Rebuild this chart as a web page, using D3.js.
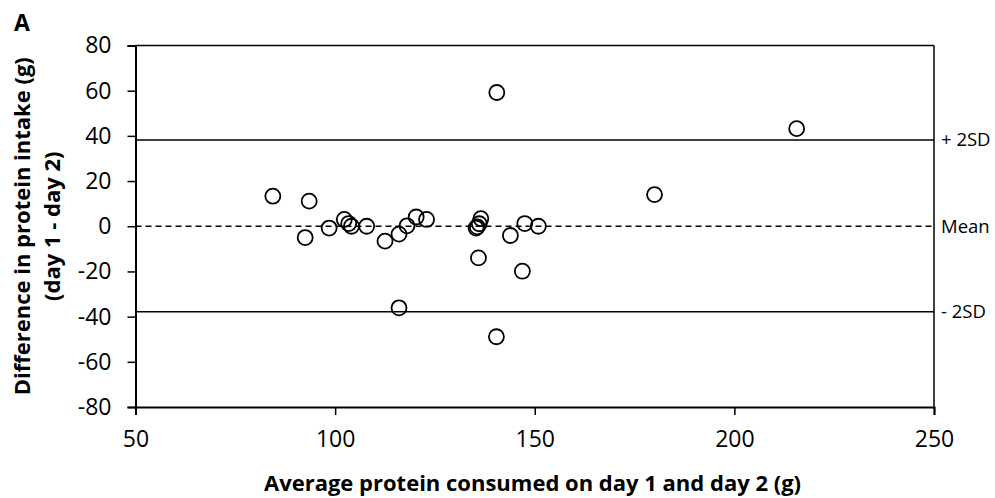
<!DOCTYPE html>
<html>
<head>
<meta charset="utf-8">
<script src="https://cdn.jsdelivr.net/npm/d3@7"></script>
<style>
  body { margin: 0; background: #fff; }
  text { font-family: "Open Sans", "Noto Sans", sans-serif; fill: #000; }
</style>
</head>
<body>
<div id="chart"></div>
<script>
// average of day 1 and day 2 (g)
const avgProtein = [84.4, 93.5, 92.5, 98.5, 102.3, 103.4, 104.1, 107.9, 112.5, 116.0,
    118.0, 120.3, 122.9, 116.0, 136.5, 136.1, 135.6, 135.3, 135.9, 140.5,
    140.4, 143.9, 147.5, 150.9, 146.9, 180.0, 215.6];
// difference day 1 - day 2 (g)
const diffProtein = [13.3, 11.1, -5.0, -0.8, 3.0, 1.2, 0, 0, -6.6, -3.5,
    0.2, 4.1, 3.0, -36.1, 3.4, 1.1, -0.3, -0.8, -14.0, 59.2,
    -48.9, -4.1, 1.2, 0, -19.9, 14.0, 43.2];
const refLines = [
    {value: 38.2, label: "+ 2SD", dashed: false},
    {value: 0, label: "Mean", dashed: true},
    {value: -37.8, label: "- 2SD", dashed: false}
];
const xTicks = [50, 100, 150, 200, 250];
const yTicks = [80, 60, 40, 20, 0, -20, -40, -60, -80];

const margin = {top: 45.5, right: 61, bottom: 91, left: 135.5};
const W = 995, H = 498;
const width = W - margin.left - margin.right;
const height = H - margin.top - margin.bottom;

const svg = d3.select("#chart").append("svg")
    .attr("width", W)
    .attr("height", H);

const g = svg.append("g")
    .attr("transform", `translate(${margin.left},${margin.top})`);

const x = d3.scaleLinear().domain([50, 250]).range([0, width]);
const y = d3.scaleLinear().domain([-80, 80]).range([height, 0]);

// box
g.append("line").attr("x1", 0).attr("x2", width).attr("y1", 0).attr("y2", 0)
    .attr("stroke", "#000").attr("stroke-width", 1.5);
g.append("line").attr("x1", width).attr("x2", width).attr("y1", 0).attr("y2", height)
    .attr("stroke", "#000").attr("stroke-width", 1.5);

// reference lines
g.selectAll(".ref")
    .data(refLines)
    .enter()
    .append("line")
    .attr("class", "ref")
    .attr("x1", 0)
    .attr("x2", width)
    .attr("y1", d => y(d.value))
    .attr("y2", d => y(d.value))
    .attr("stroke", "#000")
    .attr("stroke-width", 1.5)
    .attr("stroke-dasharray", d => d.dashed ? "6,4" : null);

g.selectAll(".reflabel")
    .data(refLines)
    .enter()
    .append("text")
    .attr("class", "reflabel")
    .attr("x", width + 7)
    .attr("y", d => y(d.value))
    .attr("dy", "0.35em")
    .style("font-size", "18.5px")
    .text(d => d.label);

// axes
const xAxis = g.append("g")
    .attr("transform", `translate(0,${height})`)
    .call(d3.axisBottom(x).tickValues(xTicks).tickFormat(d => String(d)).tickSize(8).tickPadding(16));
const yAxis = g.append("g")
    .call(d3.axisLeft(y).tickValues(yTicks).tickFormat(d => String(d)).tickSize(8).tickPadding(16));

[xAxis, yAxis].forEach(a => {
    a.select(".domain").attr("stroke-width", 2);
    a.selectAll(".tick line").attr("stroke-width", 1.5);
    a.selectAll(".tick text")
        .style("font-family", "'Open Sans', sans-serif")
        .style("font-size", "23px")
        .attr("fill", "#000");
});

// points
g.selectAll("circle")
    .data(avgProtein.map((v, i) => ({x: v, y: diffProtein[i]})))
    .enter()
    .append("circle")
    .attr("cx", d => x(d.x))
    .attr("cy", d => y(d.y))
    .attr("r", 7.5)
    .attr("fill", "none")
    .attr("stroke", "#000")
    .attr("stroke-width", 1.8);

// titles
svg.append("text")
    .attr("x", 532.5)
    .attr("y", 491)
    .attr("text-anchor", "middle")
    .style("font-size", "22px")
    .style("font-weight", "bold")
    .text("Average protein consumed on day 1 and day 2 (g)");

const yTitle = svg.append("text")
    .attr("transform", `translate(30,${margin.top + height / 2}) rotate(-90)`)
    .attr("text-anchor", "middle")
    .style("font-size", "22px")
    .style("font-weight", "bold");
yTitle.append("tspan").attr("x", 0).attr("dy", 0).text("Difference in protein intake (g)");
yTitle.append("tspan").attr("x", 0).attr("dy", 30).text("(day 1 - day 2)");

svg.append("text")
    .attr("x", 14)
    .attr("y", 31)
    .style("font-size", "23px")
    .style("font-weight", "bold")
    .text("A");
</script>
</body>
</html>
